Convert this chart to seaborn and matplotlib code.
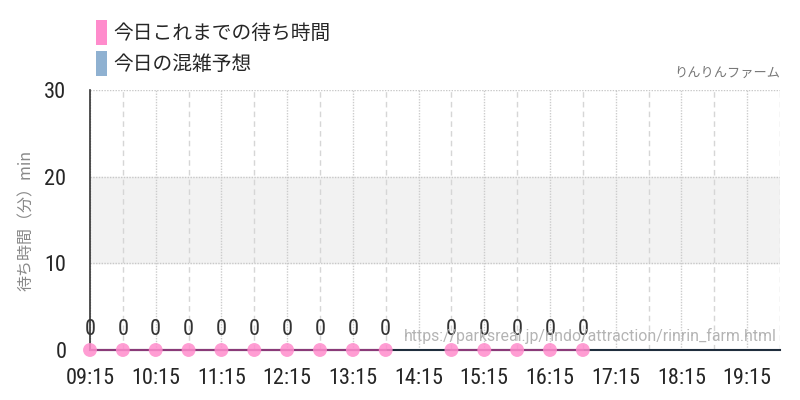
import matplotlib

matplotlib.use("Agg")

import matplotlib.pyplot as plt
import matplotlib.ticker as mticker
import numpy as np
import pandas as pd
import seaborn as sns
from matplotlib.patches import Patch

# data
TIMES = ["09:15", "09:45", "10:15", "10:45", "11:15", "11:45", "12:15", "12:45",
         "13:15", "13:45", "14:15", "14:45", "15:15", "15:45", "16:15", "16:45"]
WAITS = [0, 0, 0, 0, 0, 0, 0, 0, 0, 0, None, 0, 0, 0, 0, 0]
X_START = "09:15"
X_END = "19:45"
BAND = (10, 20)
Y_TICKS = [0, 10, 20, 30]
LEGEND_LABELS = ["今日これまでの待ち時間", "今日の混雑予想"]
LEGEND_COLORS = ["#ff8ccc", "#8fb1d1"]
Y_LABEL = "待ち時間（分）min"
TITLE = "りんりんファーム"
URL = "https://parksreal.jp/rindo/attraction/rinrin_farm.html"

JP = ["Noto Sans CJK JP", "DejaVu Sans"]
NUM = ["Roboto Condensed", "DejaVu Sans"]


def to_hours(t: str) -> float:
    h, m = t.split(":")
    return int(h) + int(m) / 60


df = pd.DataFrame({"time": TIMES, "wait": WAITS})
df["x"] = df["time"].map(to_hours)
df["wait"] = df["wait"].astype(float)

sns.set_theme(style="white")
plt.rcParams["font.family"] = NUM
plt.rcParams["font.stretch"] = "condensed"

fig = plt.figure(figsize=(8, 4), dpi=100)
ax = fig.add_axes([0.1125, 0.125, 0.8625, 0.65])

x0, x1 = to_hours(X_START), to_hours(X_END)
ax.set_xlim(x0, x1)
ax.set_ylim(0, 30)

ax.axhspan(BAND[0], BAND[1], color="#f2f2f2", zorder=0)

# hourly ticks (dotted grid) and half-hour minor lines (dashed grid)
major = np.arange(x0, x1 + 1e-6, 1.0)
minor = np.arange(x0 + 0.5, x1 + 1e-6, 1.0)
ax.xaxis.set_major_locator(mticker.FixedLocator(major))
ax.xaxis.set_minor_locator(mticker.FixedLocator(minor))
ax.xaxis.set_major_formatter(
    mticker.FuncFormatter(lambda v, _: f"{int(v):02d}:{int(round((v % 1) * 60)):02d}")
)
ax.set_yticks(Y_TICKS)
ax.grid(which="major", axis="x", color="#cccccc", linestyle=(0, (1, 1)), lw=1)
ax.grid(which="minor", axis="x", color="#d6d6d6", linestyle=(0, (4, 3)), lw=1)
ax.grid(which="major", axis="y", color="#c8c8c8", linestyle=(0, (1, 1)), lw=1)
ax.set_axisbelow(True)

ax.tick_params(axis="x", which="major", length=12, color="#cccccc", width=1,
               labelsize=16, pad=1)
ax.tick_params(axis="x", which="minor", length=0)
ax.tick_params(axis="y", length=15, color="#cccccc", width=1, labelsize=16, pad=2)

for side in ["top", "right"]:
    ax.spines[side].set_visible(False)
ax.spines["left"].set_color("#333333")
ax.spines["left"].set_linewidth(1.2)
ax.spines["bottom"].set_color("#1f2d3d")
ax.spines["bottom"].set_linewidth(1.5)

ax.plot(df["x"], df["wait"], color="#8a3a78", lw=1.5, zorder=3, clip_on=False)
sns.scatterplot(data=df.dropna(), x="x", y="wait", ax=ax, color="#ff8ccc",
                s=100, alpha=0.85, edgecolor="none", zorder=4, clip_on=False)

for _, row in df.dropna().iterrows():
    ax.annotate(f"{row['wait']:.0f}", (row["x"], row["wait"]), xytext=(0, 7),
                textcoords="offset points", ha="center", va="bottom",
                fontsize=16, color="#333333", zorder=5)

ax.text(0.995, 0.025, URL, transform=ax.transAxes, ha="right", va="bottom",
        fontsize=11.4, color="#b4b4b4", family=["Roboto", "DejaVu Sans"],
        stretch="normal", zorder=6)

ax.set_xlabel("")
ax.set_ylabel(Y_LABEL, family=JP, fontsize=11.5, color="#888888")
ax.yaxis.set_label_coords(-0.08, 0.5)

fig.text(0.975, 0.8, TITLE, ha="right", va="bottom", family=JP, fontsize=9.5,
         color="#777777")

handles = [Patch(facecolor=c, edgecolor="none") for c in LEGEND_COLORS]
fig.legend(handles, LEGEND_LABELS, loc="upper left", bbox_to_anchor=(0.098, 0.995),
           frameon=False, handlelength=0.55, handleheight=1.6, handletextpad=0.3,
           labelspacing=0.3, prop={"family": JP, "size": 14.2})

fig.savefig("out.png", dpi=100)
